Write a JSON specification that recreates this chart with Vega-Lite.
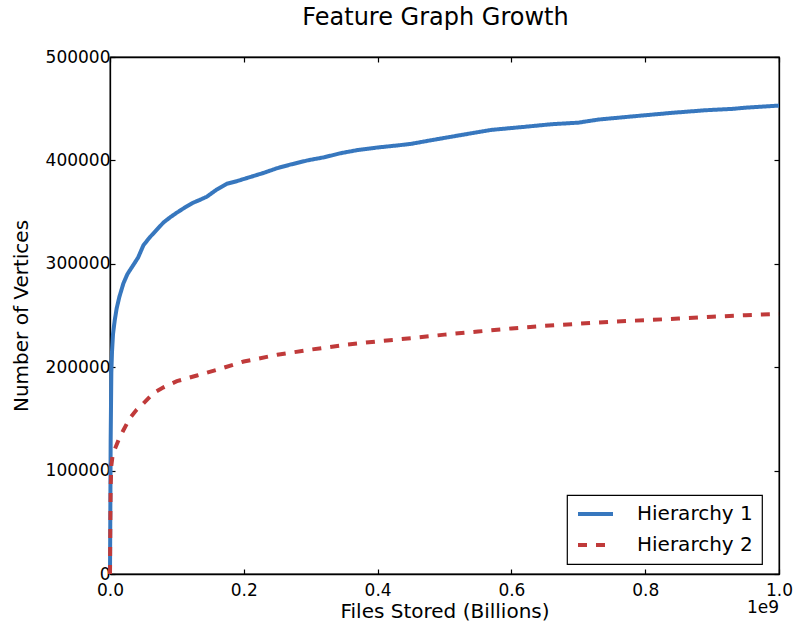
{
  "$schema": "https://vega.github.io/schema/vega-lite/v6.json",
  "width": 669,
  "height": 517,
  "autosize": {"type": "none"},
  "padding": {"left": 110, "top": 57, "right": 17, "bottom": 52},
  "background": "white",
  "title": {"text": "Feature Graph Growth", "fontSize": 24, "font": "DejaVu Sans", "fontWeight": "normal", "color": "black", "offset": 18, "dx": -9, "frame": "group"},
  "config": {
    "view": {"stroke": "black", "strokeWidth": 1.3},
    "axis": {"labelFont": "DejaVu Sans", "titleFont": "DejaVu Sans", "labelColor": "black", "titleColor": "black", "grid": false, "domainColor": "black", "domainWidth": 1.3, "tickColor": "black", "tickWidth": 1.2, "titleFontWeight": "normal", "labelOverlap": false, "labelBound": false, "labelFlush": false},
    "legend": {"orient": "none", "legendX": 457, "legendY": 438, "strokeColor": "black", "strokeWidth": 1.2, "fillColor": "white", "padding": 9, "cornerRadius": 0, "symbolType": "stroke", "symbolSize": 1225, "symbolStrokeWidth": 4, "labelFont": "DejaVu Sans", "labelFontSize": 20, "labelColor": "black", "labelOffset": 22, "rowPadding": 11, "clipHeight": 20, "title": null}
  },
  "datasets": {
    "curves": [
      {"series": "Hierarchy 1", "files": 0, "vertices": 0},
      {"series": "Hierarchy 1", "files": 500000, "vertices": 60000},
      {"series": "Hierarchy 1", "files": 1000000, "vertices": 130000},
      {"series": "Hierarchy 1", "files": 2000000, "vertices": 195000},
      {"series": "Hierarchy 1", "files": 3000000, "vertices": 215000},
      {"series": "Hierarchy 1", "files": 4500000, "vertices": 232000},
      {"series": "Hierarchy 1", "files": 7000000, "vertices": 245000},
      {"series": "Hierarchy 1", "files": 10000000, "vertices": 257000},
      {"series": "Hierarchy 1", "files": 14000000, "vertices": 268000},
      {"series": "Hierarchy 1", "files": 20000000, "vertices": 281000},
      {"series": "Hierarchy 1", "files": 26000000, "vertices": 290000},
      {"series": "Hierarchy 1", "files": 34000000, "vertices": 298000},
      {"series": "Hierarchy 1", "files": 42000000, "vertices": 306000},
      {"series": "Hierarchy 1", "files": 50000000, "vertices": 318000},
      {"series": "Hierarchy 1", "files": 60000000, "vertices": 326000},
      {"series": "Hierarchy 1", "files": 70000000, "vertices": 333000},
      {"series": "Hierarchy 1", "files": 80000000, "vertices": 340000},
      {"series": "Hierarchy 1", "files": 90000000, "vertices": 345000},
      {"series": "Hierarchy 1", "files": 100000000, "vertices": 349500},
      {"series": "Hierarchy 1", "files": 112000000, "vertices": 354500},
      {"series": "Hierarchy 1", "files": 124000000, "vertices": 359000},
      {"series": "Hierarchy 1", "files": 135000000, "vertices": 362000},
      {"series": "Hierarchy 1", "files": 145000000, "vertices": 365000},
      {"series": "Hierarchy 1", "files": 160000000, "vertices": 372000},
      {"series": "Hierarchy 1", "files": 175000000, "vertices": 377500},
      {"series": "Hierarchy 1", "files": 190000000, "vertices": 380000},
      {"series": "Hierarchy 1", "files": 210000000, "vertices": 384000},
      {"series": "Hierarchy 1", "files": 230000000, "vertices": 388000},
      {"series": "Hierarchy 1", "files": 250000000, "vertices": 392500},
      {"series": "Hierarchy 1", "files": 270000000, "vertices": 396000},
      {"series": "Hierarchy 1", "files": 295000000, "vertices": 400000},
      {"series": "Hierarchy 1", "files": 320000000, "vertices": 403000},
      {"series": "Hierarchy 1", "files": 345000000, "vertices": 407000},
      {"series": "Hierarchy 1", "files": 370000000, "vertices": 410000},
      {"series": "Hierarchy 1", "files": 400000000, "vertices": 412500},
      {"series": "Hierarchy 1", "files": 430000000, "vertices": 414500},
      {"series": "Hierarchy 1", "files": 450000000, "vertices": 416000},
      {"series": "Hierarchy 1", "files": 480000000, "vertices": 419500},
      {"series": "Hierarchy 1", "files": 520000000, "vertices": 424000},
      {"series": "Hierarchy 1", "files": 570000000, "vertices": 429500},
      {"series": "Hierarchy 1", "files": 620000000, "vertices": 432500},
      {"series": "Hierarchy 1", "files": 660000000, "vertices": 435000},
      {"series": "Hierarchy 1", "files": 700000000, "vertices": 436500},
      {"series": "Hierarchy 1", "files": 730000000, "vertices": 439500},
      {"series": "Hierarchy 1", "files": 780000000, "vertices": 442500},
      {"series": "Hierarchy 1", "files": 840000000, "vertices": 446000},
      {"series": "Hierarchy 1", "files": 890000000, "vertices": 448500},
      {"series": "Hierarchy 1", "files": 930000000, "vertices": 449800},
      {"series": "Hierarchy 1", "files": 950000000, "vertices": 451000},
      {"series": "Hierarchy 1", "files": 1000000000, "vertices": 453000},
      {"series": "Hierarchy 2", "files": 0, "vertices": 0},
      {"series": "Hierarchy 2", "files": 500000, "vertices": 50000},
      {"series": "Hierarchy 2", "files": 1000000, "vertices": 85000},
      {"series": "Hierarchy 2", "files": 2000000, "vertices": 105000},
      {"series": "Hierarchy 2", "files": 4000000, "vertices": 115000},
      {"series": "Hierarchy 2", "files": 8000000, "vertices": 122000},
      {"series": "Hierarchy 2", "files": 13000000, "vertices": 130000},
      {"series": "Hierarchy 2", "files": 20000000, "vertices": 139000},
      {"series": "Hierarchy 2", "files": 30000000, "vertices": 151000},
      {"series": "Hierarchy 2", "files": 40000000, "vertices": 159000},
      {"series": "Hierarchy 2", "files": 50000000, "vertices": 165000},
      {"series": "Hierarchy 2", "files": 65000000, "vertices": 175000},
      {"series": "Hierarchy 2", "files": 80000000, "vertices": 180500},
      {"series": "Hierarchy 2", "files": 100000000, "vertices": 186500},
      {"series": "Hierarchy 2", "files": 130000000, "vertices": 192000},
      {"series": "Hierarchy 2", "files": 160000000, "vertices": 197500},
      {"series": "Hierarchy 2", "files": 200000000, "vertices": 205500},
      {"series": "Hierarchy 2", "files": 250000000, "vertices": 212000},
      {"series": "Hierarchy 2", "files": 300000000, "vertices": 217000},
      {"series": "Hierarchy 2", "files": 350000000, "vertices": 221500},
      {"series": "Hierarchy 2", "files": 400000000, "vertices": 225000},
      {"series": "Hierarchy 2", "files": 450000000, "vertices": 228000},
      {"series": "Hierarchy 2", "files": 500000000, "vertices": 231500},
      {"series": "Hierarchy 2", "files": 550000000, "vertices": 234500},
      {"series": "Hierarchy 2", "files": 600000000, "vertices": 237500},
      {"series": "Hierarchy 2", "files": 650000000, "vertices": 240000},
      {"series": "Hierarchy 2", "files": 700000000, "vertices": 242000},
      {"series": "Hierarchy 2", "files": 750000000, "vertices": 244000},
      {"series": "Hierarchy 2", "files": 800000000, "vertices": 245500},
      {"series": "Hierarchy 2", "files": 850000000, "vertices": 247000},
      {"series": "Hierarchy 2", "files": 900000000, "vertices": 248800},
      {"series": "Hierarchy 2", "files": 950000000, "vertices": 250300},
      {"series": "Hierarchy 2", "files": 1000000000, "vertices": 251500}
    ],
    "note": [{"label": "1e9"}]
  },
  "layer": [
    {
      "data": {"name": "curves"},
      "mark": {"type": "line", "strokeWidth": 4, "strokeCap": "butt"},
      "encoding": {
        "x": {"field": "files", "type": "quantitative", "scale": {"domain": [0, 1000000000], "nice": false, "zero": false},
              "axis": {"orient": "bottom", "title": "Files Stored (Billions)", "titleFontSize": 20, "titlePadding": 3, "values": [0, 200000000, 400000000, 600000000, 800000000, 1000000000], "labelExpr": "format(datum.value / 1e9, '.1f')", "labelFontSize": 17, "labelPadding": 13, "tickSize": -5}},
        "y": {"field": "vertices", "type": "quantitative", "scale": {"domain": [0, 500000], "nice": false, "zero": false},
              "axis": {"orient": "left", "title": "Number of Vertices", "titleFontSize": 20, "titlePadding": 14, "values": [0, 100000, 200000, 300000, 400000, 500000], "format": "d", "labelFontSize": 17, "labelPadding": 5, "tickSize": -5}},
        "color": {"field": "series", "type": "nominal", "scale": {"domain": ["Hierarchy 1", "Hierarchy 2"], "range": ["#3777be", "#c03a3a"]}, "legend": {"title": null}},
        "strokeDash": {"field": "series", "type": "nominal", "scale": {"domain": ["Hierarchy 1", "Hierarchy 2"], "range": [[1, 0], [9, 9]]}, "legend": {"title": null}}
      }
    },
    {
      "data": {"name": "curves"},
      "mark": {"type": "point", "opacity": 0},
      "encoding": {
        "x": {"field": "files", "type": "quantitative", "axis": {"orient": "top", "title": null, "labels": false, "values": [0, 200000000, 400000000, 600000000, 800000000, 1000000000], "tickSize": -5}},
        "y": {"field": "vertices", "type": "quantitative", "axis": {"orient": "right", "title": null, "labels": false, "values": [0, 100000, 200000, 300000, 400000, 500000], "tickSize": -5}}
      }
    },
    {
      "data": {"name": "note"},
      "mark": {"type": "text", "align": "right", "baseline": "middle", "font": "DejaVu Sans", "fontSize": 17, "color": "black"},
      "encoding": {
        "x": {"datum": 1000000000, "type": "quantitative", "axis": null},
        "y": {"datum": -33000, "type": "quantitative", "axis": null},
        "text": {"field": "label"}
      }
    }
  ],
  "resolve": {"axis": {"x": "independent", "y": "independent"}}
}
